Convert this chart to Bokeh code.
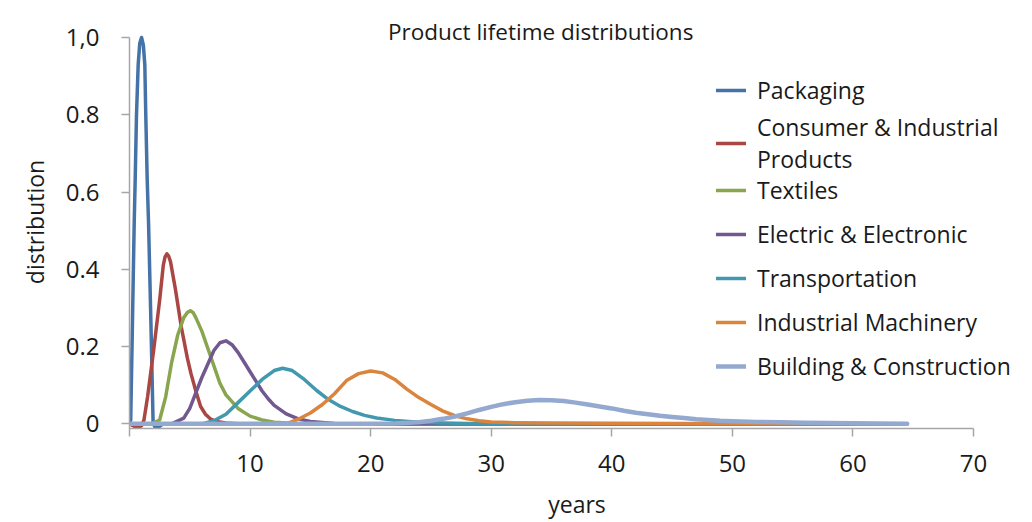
from bokeh.plotting import figure
from bokeh.models import Legend, LegendItem, Label, FixedTicker, CustomJSTickFormatter, Range1d
from bokeh.embed import file_html
from bokeh.resources import INLINE

# ---- data ----
series_names = ["Packaging", "Consumer & Industrial\nProducts", "Textiles",
                "Electric & Electronic", "Transportation", "Industrial Machinery",
                "Building & Construction"]

packaging_x = [0, 0.1, 0.25, 0.39, 0.47, 0.58, 0.72, 0.85, 1.0, 1.15, 1.27, 1.35, 1.47, 1.58, 1.77, 1.96, 2.2, 2.5, 2.8, 64.5]
packaging_y = [0, 0.01, 0.27, 0.52, 0.63, 0.80, 0.93, 0.985, 1.0, 0.98, 0.93, 0.80, 0.63, 0.52, 0.27, 0.0, -0.012, -0.006, 0, 0]

consumer_x = [0, 0.3, 0.66, 1.0, 1.2, 1.5, 2.0, 2.5, 2.8, 2.95, 3.1, 3.25, 3.4, 3.8, 4.3, 4.8, 5.1, 5.5, 5.9, 6.3, 6.7, 7.2, 8, 9, 64.5]
consumer_y = [0, -0.005, -0.011, -0.005, 0.01, 0.07, 0.19, 0.32, 0.41, 0.432, 0.44, 0.434, 0.42, 0.35, 0.25, 0.17, 0.13, 0.085, 0.045, 0.025, 0.013, 0.006, 0.002, 0, 0]

textiles_x = [0, 1.8, 2.5, 3.0, 3.5, 4.0, 4.5, 4.8, 5.05, 5.3, 5.5, 6.0, 6.5, 7.0, 7.5, 8.0, 9, 10, 11, 12, 14, 64.5]
textiles_y = [0, 0, 0.01, 0.07, 0.16, 0.23, 0.275, 0.288, 0.293, 0.287, 0.275, 0.24, 0.195, 0.15, 0.105, 0.075, 0.04, 0.02, 0.01, 0.004, 0, 0]

electric_x = [0, 3.5, 4.5, 5.0, 5.5, 6.0, 6.5, 7.0, 7.5, 8.0, 8.5, 9.0, 9.5, 10.0, 10.5, 11, 11.5, 12, 13, 14, 15, 17, 20, 64.5]
electric_y = [0, 0, 0.015, 0.04, 0.08, 0.12, 0.155, 0.19, 0.21, 0.215, 0.205, 0.185, 0.16, 0.135, 0.11, 0.085, 0.065, 0.048, 0.026, 0.013, 0.006, 0.001, 0, 0]

transport_x = [0, 6, 7, 8, 9, 10, 11, 12, 12.7, 13.5, 14.5, 15.5, 16.5, 17.5, 18.5, 19.5, 20.5, 22, 24, 26, 28, 30, 64.5]
transport_y = [0, 0, 0.008, 0.025, 0.055, 0.085, 0.115, 0.138, 0.144, 0.138, 0.115, 0.087, 0.063, 0.045, 0.032, 0.022, 0.015, 0.009, 0.004, 0.002, 0.001, 0, 0]

machinery_x = [0, 13, 14, 15, 16, 17, 18, 19, 20, 21, 22, 23, 24, 25, 26, 27, 28, 29, 30, 32, 35, 45, 55, 64.5]
machinery_y = [0, 0, 0.012, 0.028, 0.05, 0.078, 0.112, 0.13, 0.137, 0.132, 0.115, 0.09, 0.068, 0.05, 0.033, 0.021, 0.013, 0.008, 0.005, 0.003, 0.002, 0.001, 0, 0]

building_x = [0, 20, 22, 24, 25, 26, 27, 28, 29, 30, 31, 32, 33, 34, 35, 36, 37, 38, 39, 40, 41, 42, 43, 44, 45, 46, 47, 48, 49, 50, 52, 54, 56, 58, 60, 62, 64.5]
building_y = [0, 0, 0.001, 0.004, 0.008, 0.013, 0.019, 0.027, 0.036, 0.044, 0.051, 0.056, 0.06, 0.062, 0.061, 0.059, 0.055, 0.05, 0.045, 0.04, 0.034, 0.029, 0.025, 0.021, 0.018, 0.015, 0.012, 0.01, 0.008, 0.007, 0.005, 0.004, 0.003, 0.002, 0.0015, 0.001, 0.0005]

x_ticks = [0, 10, 20, 30, 40, 50, 60, 70]
y_ticks = [0, 0.2, 0.4, 0.6, 0.8, 1.0]

title_text = "Product lifetime distributions"
x_label = "years"
y_label = "distribution"

colors = ["#4572A7", "#AA4643", "#89A54E", "#71588F", "#4198AF", "#DB843D", "#93A9CF"]
widths = [3.5, 3.5, 3.5, 3.5, 3.5, 3.5, 4.5]

FONT = "Open Sans"
TEXT = "#1a1a1a"
AXIS = "#a6a6a6"

p = figure(width=1028, height=522, output_backend="svg", toolbar_location=None,
           x_range=Range1d(0, 74.23), y_range=Range1d(-0.012, 1.057),
           min_border_left=129, min_border_right=4, min_border_top=15, min_border_bottom=94)
p.outline_line_color = None
p.grid.visible = False
p.background_fill_color = "white"
p.border_fill_color = "white"

xs = [packaging_x, consumer_x, textiles_x, electric_x, transport_x, machinery_x, building_x]
ys = [packaging_y, consumer_y, textiles_y, electric_y, transport_y, machinery_y, building_y]

items = []
for name, x, y, c, w in zip(series_names, xs, ys, colors, widths):
    r = p.line(x, y, line_color=c, line_width=w, line_cap="round", line_join="round")
    items.append(LegendItem(label=name, renderers=[r]))

# axes
xa = p.xaxis[0]
xa.ticker = FixedTicker(ticks=x_ticks)
xa.bounds = (0, 70)
xa.formatter = CustomJSTickFormatter(code="return tick == 0 ? '' : tick.toFixed(0);")
ya = p.yaxis[0]
ya.ticker = FixedTicker(ticks=y_ticks)
ya.bounds = (-0.012, 1.0)
ya.formatter = CustomJSTickFormatter(code="""
if (Math.abs(tick) < 1e-9) return '0';
if (Math.abs(tick - 1) < 1e-9) return '1,0';
return tick.toFixed(1);
""")
for ax in (xa, ya):
    ax.axis_line_color = AXIS
    ax.axis_line_width = 1.5
    ax.major_tick_line_color = AXIS
    ax.major_tick_line_width = 1.5
    ax.major_tick_out = 8
    ax.major_tick_in = 0
    ax.minor_tick_line_color = None
    ax.major_label_text_font = FONT
    ax.major_label_text_font_size = "24px"
    ax.major_label_text_color = TEXT
    ax.axis_label_text_font = FONT
    ax.axis_label_text_font_size = "23px"
    ax.axis_label_text_font_style = "normal"
    ax.axis_label_text_color = TEXT
xa.major_label_standoff = 18
ya.major_label_standoff = 22

ya.axis_label = y_label
ya.axis_label_standoff = 12
xa.axis_label = x_label
xa.axis_label_standoff = 13

# title as annotation inside the (extended) frame
p.add_layout(Label(x=34.1, y=1.0154, text=title_text, text_align="center", text_baseline="middle",
                   text_font=FONT, text_font_size="22.5px", text_color=TEXT))

legend_style = dict(orientation="vertical", glyph_width=30, glyph_height=20, label_standoff=11,
                    label_text_font=FONT, label_text_font_size="23px", label_text_color=TEXT,
                    label_height=30, padding=0, margin=0,
                    background_fill_alpha=0, border_line_alpha=0)
legend_top = Legend(items=items[:2], location=(587, 253), spacing=5, **legend_style)
legend_bottom = Legend(items=items[2:], location=(587, 46), spacing=12, **legend_style)
p.add_layout(legend_top)
p.add_layout(legend_bottom)

open("out.html", "w").write(file_html(p, INLINE))
